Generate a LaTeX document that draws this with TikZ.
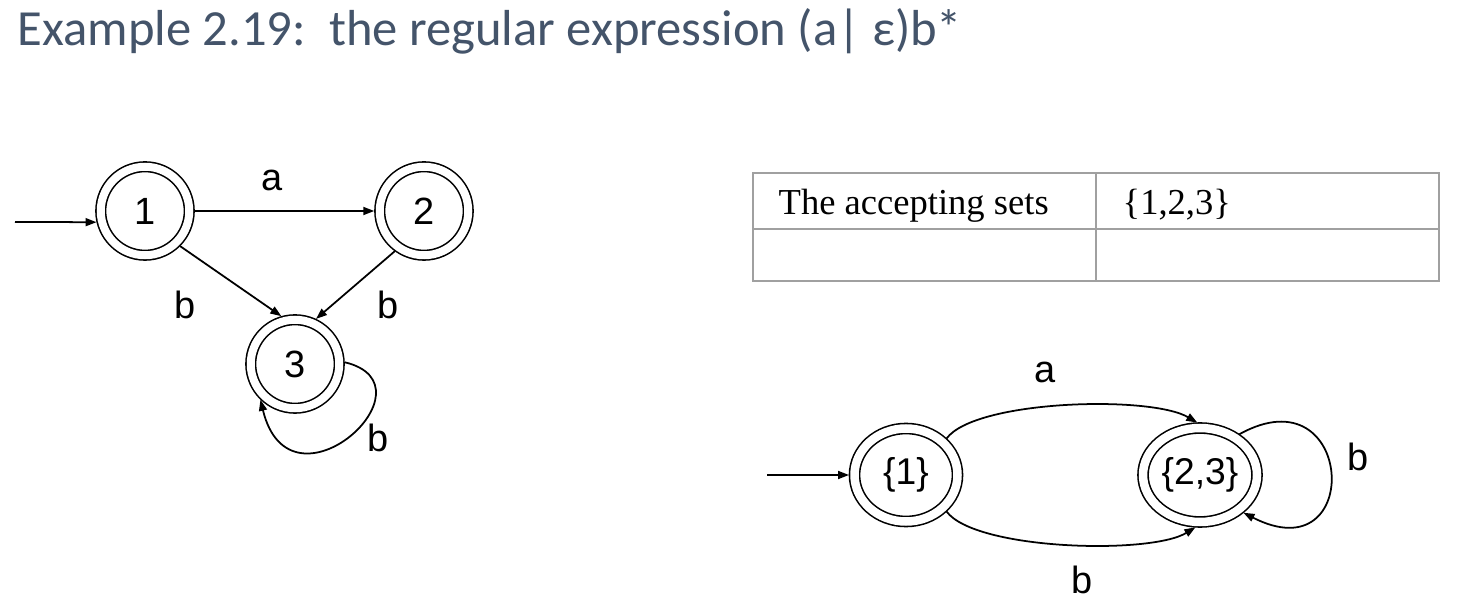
\documentclass[tikz,border=0pt]{standalone}
\usepackage{fontspec}
\setmainfont{Liberation Serif}
\newfontfamily\arialfont{Liberation Sans}
\newfontfamily\titlefont{Carlito}
\usetikzlibrary{arrows.meta,shapes.geometric}
\definecolor{titleblue}{RGB}{68,84,106}
\definecolor{tablegray}{RGB}{160,160,160}

\begin{document}
\begin{tikzpicture}[>={Triangle[length=1.1mm,width=0.8mm]}, x=0.1mm, y=0.1mm,
    edge/.style={->, line width=0.5pt},
    state/.style={circle, draw, double, double distance=0.8mm, line width=0.45pt,
        minimum size=8.85mm, inner sep=0pt, outer sep=0.55mm, font=\arialfont\fontsize{10.8}{12}\selectfont},
    dstate/.style={ellipse, draw, double, double distance=0.85mm, line width=0.45pt,
        inner sep=0pt, outer sep=0.55mm, font=\arialfont\fontsize{10.6}{12}\selectfont},
    lbl/.style={font=\arialfont\fontsize{10.8}{12}\selectfont},
    tableline/.style={draw=tablegray, line width=0.6pt}]
\useasboundingbox (0,0) rectangle (1466,600);
\node[anchor=base west, inner sep=0pt, text=titleblue, font=\titlefont\fontsize{14.4}{17}\selectfont]
    (title) at (17,554) {Example 2.19:\ \ the regular expression (a|\ ε)b*};
% NFA
\node[state] (n1) at (145,389) {1};
\node[state] (n2) at (424,389) {2};
\node[state] (n3) at (295,236) {3};
\coordinate (s1) at (15,378);
\draw[edge] (s1) -- (n1.193);
\draw[edge] (n1) -- (n2);
\draw[edge] (n1.-45) -- (n3.106);
\draw[edge] (n2.234) -- (n3.65);
\draw[edge] (n3.2) .. controls (440,215) and (290,78) .. (n3.226);
\node[lbl] (la) at (272,420) {a};
\node[lbl] (lb1) at (185,295) {b};
\node[lbl] (lb2) at (388,295) {b};
\node[lbl] (lb3) at (378,162) {b};
% table
\draw[tableline] (753,427) rectangle (1439,319);
\draw[tableline] (753,371) -- (1439,371);
\draw[tableline] (1096,427) -- (1096,319);
\node[anchor=base west, inner sep=0pt, font=\fontsize{10.4}{13}\selectfont] (t1) at (778,385) {The accepting sets};
\node[anchor=base west, inner sep=0pt, font=\fontsize{10.4}{13}\selectfont] (t2) at (1122,385) {\{1,2,3\}};
% DFA
\node[dstate, minimum width=10.3mm, minimum height=9.3mm] (d1) at (906,125) {\{1\}};
\node[dstate, minimum width=11.4mm, minimum height=9.4mm] (d23) at (1200,125) {\{2,3\}};
\coordinate (s2) at (767,125);
\draw[edge] (s2) -- (d1);
\draw[edge] (d1.42) .. controls (975,200) and (1150,205) .. (d23.93);
\draw[edge] (d1.-42) .. controls (975,50) and (1150,45) .. (d23.265);
\draw[edge] (d23.46) .. controls (1355,230) and (1365,25) .. (d23.-41);
\node[lbl] (da) at (1045,228) {a};
\node[lbl] (db1) at (1082,20) {b};
\node[lbl] (db2) at (1358,143) {b};
\end{tikzpicture}
\end{document}
